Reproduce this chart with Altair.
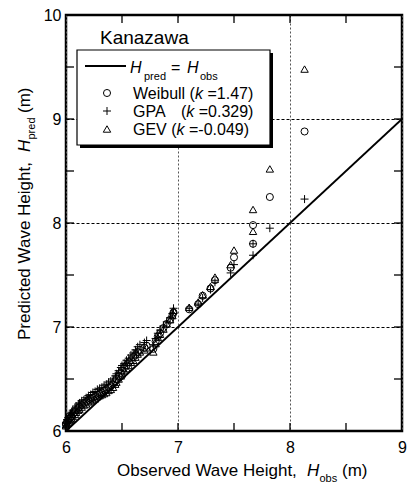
import altair as alt
import pandas as pd

# ---------------- data ----------------
obs = [6.00, 6.00, 6.01, 6.02, 6.03, 6.04, 6.05, 6.06, 6.08, 6.09,
       6.11, 6.12, 6.14, 6.16, 6.18, 6.20, 6.22, 6.24, 6.26, 6.28,
       6.30, 6.32, 6.34, 6.36, 6.38, 6.40, 6.42, 6.44, 6.45, 6.47,
       6.49, 6.50, 6.52, 6.54, 6.56, 6.58, 6.60, 6.62, 6.64, 6.66,
       6.70, 6.72, 6.78, 6.80, 6.82, 6.84, 6.87, 6.90, 6.93, 6.95,
       6.96, 7.10, 7.18, 7.22, 7.29, 7.33, 7.47, 7.50, 7.67, 7.67,
       7.82, 8.13]
weibull = [6.06, 6.07, 6.09, 6.10, 6.12, 6.13, 6.14, 6.16, 6.18, 6.20,
           6.22, 6.23, 6.25, 6.27, 6.28, 6.30, 6.31, 6.32, 6.33, 6.35,
           6.36, 6.37, 6.39, 6.40, 6.42, 6.43, 6.45, 6.48, 6.50, 6.53,
           6.56, 6.58, 6.61, 6.63, 6.66, 6.68, 6.71, 6.73, 6.76, 6.78,
           6.80, 6.82, 6.79, 6.86, 6.91, 6.94, 6.99, 7.03, 7.07, 7.11,
           7.14, 7.17, 7.22, 7.30, 7.37, 7.45, 7.57, 7.67, 7.80, 7.98,
           8.25, 8.88]
gpa = [6.07, 6.08, 6.11, 6.13, 6.15, 6.17, 6.18, 6.20, 6.22, 6.24,
       6.26, 6.27, 6.29, 6.30, 6.32, 6.34, 6.35, 6.37, 6.38, 6.40,
       6.41, 6.42, 6.44, 6.45, 6.47, 6.48, 6.50, 6.53, 6.55, 6.58,
       6.61, 6.63, 6.65, 6.68, 6.70, 6.73, 6.75, 6.78, 6.81, 6.83,
       6.85, 6.87, 6.83, 6.89, 6.94, 6.97, 7.01, 7.05, 7.09, 7.13,
       7.18, 7.18, 7.22, 7.28, 7.36, 7.43, 7.52, 7.60, 7.69, 7.80,
       7.95, 8.23]
gev = [6.05, 6.06, 6.07, 6.08, 6.10, 6.11, 6.12, 6.14, 6.16, 6.18,
       6.20, 6.21, 6.23, 6.25, 6.26, 6.28, 6.29, 6.30, 6.31, 6.33,
       6.34, 6.35, 6.36, 6.37, 6.39, 6.40, 6.42, 6.45, 6.47, 6.50,
       6.53, 6.55, 6.58, 6.60, 6.63, 6.66, 6.68, 6.71, 6.74, 6.76,
       6.78, 6.80, 6.76, 6.84, 6.90, 6.93, 6.98, 7.03, 7.07, 7.11,
       7.16, 7.19, 7.24, 7.31, 7.39, 7.48, 7.60, 7.74, 7.92, 8.13,
       8.52, 9.48]
x_labels = [6, 7, 8, 9]
y_labels = [6, 7, 8, 9, 10]
x_ticks = [6.5, 7, 7.5, 8, 8.5]
y_ticks = [6.5, 7, 7.5, 8, 8.5, 9, 9.5]
line_ends = [6, 9]

# ---------------- layout ----------------
W, H = 336, 416          # plot area
OX, OY = 66, 15          # page position of plot origin
FONT = "Liberation Sans"
PLUS = "M-1,0L1,0M0,-1L0,1"
TL = 8                   # inward tick length

xs = alt.Scale(domain=[6, 9], nice=False, zero=False)
ys = alt.Scale(domain=[6, 10], nice=False, zero=False)

x_axis = alt.Axis(values=x_labels, title=None, grid=True, gridDash=[2, 2],
                  gridColor="#555555", gridWidth=1, ticks=False, domain=False,
                  labelFontSize=16, labelFont=FONT, labelColor="black",
                  labelPadding=8, labelFlush=False, format="d")
y_axis = alt.Axis(values=y_labels, title=None, grid=True, gridDash=[3, 2],
                  gridColor="black", gridWidth=1, ticks=False, domain=False,
                  labelFontSize=16, labelFont=FONT, labelColor="black",
                  labelPadding=5, labelFlush=False, format="d")


def px(x):
    return alt.value(x - OX)


def py(y):
    return alt.value(y - OY)


def txt(s, x, y, size=16, italic=False, angle=0):
    kw = dict(text=s, align="left", baseline="alphabetic", fontSize=size,
              font=FONT, color="black")
    if italic:
        kw["fontStyle"] = "italic"
    if angle:
        kw["angle"] = angle
    return alt.Chart(alt.Data(values=[{}])).mark_text(**kw).encode(x=px(x), y=py(y))


def sym(shape, size, x, y):
    return alt.Chart(alt.Data(values=[{}])).mark_point(
        shape=shape, size=size, filled=False, color="black", strokeWidth=1, opacity=1
    ).encode(x=px(x), y=py(y))


def rect(x1, y1, x2, y2, fill, stroke=None, sw=0):
    kw = dict(fill=fill)
    if stroke:
        kw.update(stroke=stroke, strokeWidth=sw)
    else:
        kw.update(strokeWidth=0)
    return alt.Chart(alt.Data(values=[{}])).mark_rect(**kw).encode(
        x=px(x1), x2=px(x2), y=py(y1), y2=py(y2))


def X(field):
    return alt.X(field, scale=xs, axis=x_axis)


def Y(field):
    return alt.Y(field, scale=ys, axis=y_axis)


# ---------------- data layers ----------------
df_w = pd.DataFrame({"obs": obs, "pred": weibull})
df_p = pd.DataFrame({"obs": obs, "pred": gpa})
df_g = pd.DataFrame({"obs": obs, "pred": gev})

line = alt.Chart(pd.DataFrame({"obs": line_ends, "pred": line_ends})).mark_line(
    color="black", strokeWidth=1.8
).encode(x=X("obs:Q"), y=Y("pred:Q"))


def pts(df, shape, size):
    return alt.Chart(df).mark_point(
        shape=shape, size=size, filled=False, color="black", strokeWidth=1, opacity=1
    ).encode(x=X("obs:Q"), y=Y("pred:Q"))


p_gev = pts(df_g, "triangle-up", 55)
p_wei = pts(df_w, "circle", 50)
p_gpa = pts(df_p, PLUS, 64)

# ---------------- inward ticks ----------------
dxt = pd.DataFrame({"obs": x_ticks})
dyt = pd.DataFrame({"pred": y_ticks})
tick_kw = dict(color="black", strokeWidth=1.3)
t_bottom = alt.Chart(dxt).mark_rule(**tick_kw).encode(
    x=X("obs:Q"), y=alt.value(H), y2=alt.value(H - TL))
t_top = alt.Chart(dxt).mark_rule(**tick_kw).encode(
    x=X("obs:Q"), y=alt.value(0), y2=alt.value(TL))
t_left = alt.Chart(dyt).mark_rule(**tick_kw).encode(
    y=Y("pred:Q"), x=alt.value(0), x2=alt.value(TL))
t_right = alt.Chart(dyt).mark_rule(**tick_kw).encode(
    y=Y("pred:Q"), x=alt.value(W - TL), x2=alt.value(W))

# ---------------- legend ----------------
cover = rect(70, 18, 268, 50, "white")
shadow = rect(80, 53, 273, 148, "black")
box = rect(77, 50, 270, 145, "white", "black", 1.2)
leg_line = alt.Chart(alt.Data(values=[{}])).mark_rule(color="black", strokeWidth=2).encode(
    x=px(85), x2=px(126), y=py(66))

legend_layers = [
    cover, shadow, box, leg_line,
    txt("Kanazawa", 100, 44, size=19),
    txt("H", 130, 73, italic=True),
    txt("pred", 144, 80, size=11),
    txt("=", 171, 73),
    txt("H", 187, 73, italic=True),
    txt("obs", 200, 80, size=11),
    sym("circle", 50, 107, 93),
    txt("Weibull (", 133, 99),
    txt("k", 195, 99, italic=True),
    txt("=1.47)", 207.5, 99),
    sym(PLUS, 64, 107, 111),
    txt("GPA", 133, 117),
    txt("(", 181, 117),
    txt("k", 186.3, 117, italic=True),
    txt("=0.329)", 198.7, 117),
    sym("triangle-up", 55, 107, 129),
    txt("GEV (", 133, 135),
    txt("k", 176.6, 135, italic=True),
    txt("=-0.049)", 189, 135),
]

# ---------------- axis titles ----------------
title_layers = [
    txt("Observed Wave Height,", 117, 476, size=17),
    txt("H", 307, 476, size=17, italic=True),
    txt("obs", 319.5, 481.5, size=11),
    txt("(m)", 342, 476, size=17),
    txt("Predicted Wave Height,", 30, 340, size=17, angle=270),
    txt("H", 30, 152, size=17, angle=270, italic=True),
    txt("pred", 35, 139.5, size=11, angle=270),
    txt("(m)", 30, 113, size=17, angle=270),
]

chart = alt.layer(
    line, p_gev, p_wei, p_gpa,
    *legend_layers,
    t_bottom, t_top, t_left, t_right,
    *title_layers,
).properties(
    width=W, height=H,
    autosize=alt.AutoSizeParams(type="none"),
    padding={"left": 58, "top": 7, "right": 6, "bottom": 52},
).configure_view(stroke="black", strokeWidth=2.5)

chart.save("out.html", embed_options={"renderer": "svg", "actions": False})
